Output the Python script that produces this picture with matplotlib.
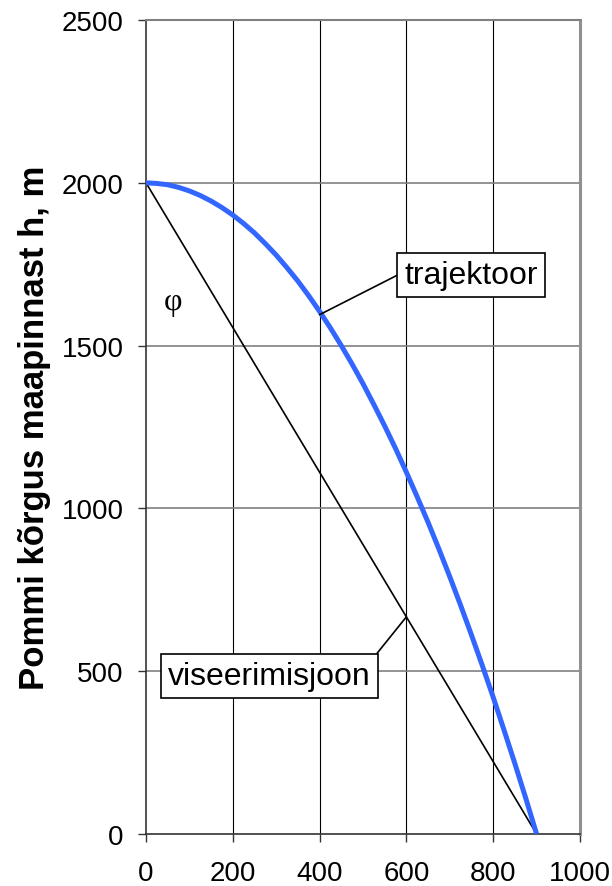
import matplotlib
matplotlib.use("Agg")
import matplotlib.pyplot as plt

# trajectory (distance x, height h)
traj_x = [0, 25, 50, 75, 100, 125, 150, 175, 200, 225, 250, 275, 300, 325, 350, 375,
          400, 425, 450, 475, 500, 525, 550, 575, 600, 625, 650, 675, 700, 725, 750,
          775, 800, 825, 850, 875, 900]
traj_h = [2000, 1998, 1994, 1986, 1975, 1961, 1944, 1924, 1901, 1875, 1846, 1813, 1778,
          1739, 1698, 1653, 1605, 1554, 1500, 1443, 1383, 1319, 1253, 1184, 1111, 1035,
          957, 875, 790, 702, 611, 517, 420, 319, 216, 110, 0]
# sight line: from drop point to target
sight_x = [0, 900]
sight_h = [2000, 0]

x_ticks = [0, 200, 400, 600, 800, 1000]
y_ticks = [0, 500, 1000, 1500, 2000, 2500]
ylabel = "Pommi kõrgus maapinnast h, m"

plt.rcParams['font.family'] = ['Liberation Sans', 'DejaVu Sans']

fig = plt.figure(figsize=(6.12, 8.87), dpi=100)
ax = fig.add_axes([146/612, 1-835/887, (580-146)/612, (835-21)/887])

ax.set_xlim(0, 1000)
ax.set_ylim(0, 2500)
ax.set_xticks(x_ticks)
ax.set_yticks(y_ticks)
ax.tick_params(axis='both', labelsize=20, length=6, width=1, direction='out', color='#333333')
ax.tick_params(axis='x', pad=13)
ax.tick_params(axis='y', pad=10)

# gridlines: vertical black thin, horizontal grey
for xv in x_ticks[1:-1]:
    ax.axvline(xv, color='black', lw=0.8, zorder=1)
for yv in y_ticks[1:-1]:
    ax.axhline(yv, color='#808080', lw=1.2, zorder=1)

ax.spines['left'].set_color('#333333')
ax.spines['bottom'].set_color('#333333')
ax.spines['left'].set_linewidth(1.2)
ax.spines['bottom'].set_linewidth(1.2)
ax.spines['top'].set_color('#808080')
ax.spines['top'].set_linewidth(1.5)
ax.spines['right'].set_color('#909090')
ax.spines['right'].set_linewidth(2.2)

ax.plot(sight_x, sight_h, color='black', lw=1.2, zorder=3)
ax.plot(traj_x, traj_h, color='#3366FF', lw=3.6, zorder=4, solid_capstyle='butt')

ax.set_ylabel(ylabel, fontsize=25, fontweight='bold', labelpad=8)

box = dict(boxstyle='square,pad=0.22', fc='white', ec='black', lw=1.2)
ax.annotate('trajektoor', xy=(400, 1595), xytext=(749, 1718),
            fontsize=23, ha='center', va='center', bbox=box, zorder=6,
            arrowprops=dict(arrowstyle='-', color='black', lw=1.2,
                            relpos=(0, 0.6), shrinkA=0, shrinkB=0))
ax.annotate('viseerimisjoon', xy=(600, 667), xytext=(285, 486),
            fontsize=23, ha='center', va='center', bbox=box, zorder=6,
            arrowprops=dict(arrowstyle='-', color='black', lw=1.2,
                            relpos=(1, 1), shrinkA=0, shrinkB=0))
ax.text(62, 1635, 'φ', fontsize=23, family=['Liberation Serif', 'DejaVu Serif'],
        ha='center', va='center')

fig.savefig('out.png', dpi=100)
